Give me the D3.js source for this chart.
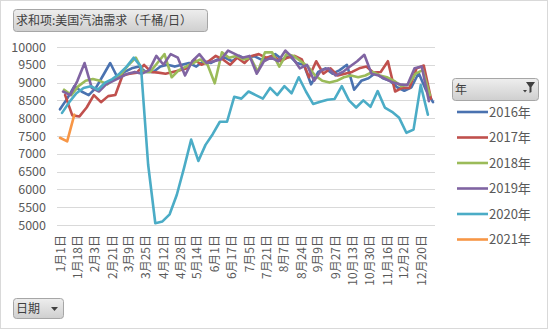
<!DOCTYPE html>
<html>
<head>
<meta charset="utf-8">
<script src="https://cdn.jsdelivr.net/npm/d3@7/dist/d3.min.js"></script>
<style>
  html, body { margin: 0; padding: 0; background: #fff; }
  svg { display: block; font-family: "Noto Sans CJK SC", "Noto Sans", sans-serif; }
</style>
</head>
<body>
<svg id="chart" width="550" height="330"></svg>
<script>
// Weekly US gasoline demand (thousand barrels/day), one series per year
const seriesNames = ["2016年", "2017年", "2018年", "2019年", "2020年", "2021年"];
const firstWeek = ["2016-01-01", "2017-01-06", "2018-01-05", "2019-01-04", "2020-01-03", "2021-01-01"];
const seriesColors = ["#4a72b0", "#c0504d", "#9bbb59", "#8064a2", "#4bacc6", "#f79646"];

const v2016 = [8250, 8550, 8900, 8750, 8650, 8850, 9200, 9550, 9150, 9300, 9400, 9450, 9300, 9300,
  9450, 9500, 9450, 9500, 9550, 9450, 9600, 9550, 9650, 9700, 9600, 9750, 9650, 9750, 9650, 9700,
  9800, 9650, 9750, 9550, 9500, 8950, 9300, 9400, 9250, 9350, 9500, 8800, 9050, 9120, 9270, 9120,
  9050, 8870, 8770, 8870, 9270, 8800, 8450];
const v2017 = [8650, 8080, 8050, 8300, 8650, 8450, 8620, 8650, 9200, 9250, 9280, 9500, 9300, 9280,
  9250, 9300, 9350, 9400, 9650, 9500, 9600, 9750, 9650, 9500, 9700, 9550, 9750, 9800, 9700, 9750,
  9600, 9700, 9750, 9650, 9150, 9600, 9250, 9400, 9200, 9250, 9300, 9400, 9450, 9280, 9300, 9600,
  8750, 8850, 8850, 9400, 9480, 8550];
const v2018 = [8800, 8650, 8900, 9050, 9100, 9050, 8950, 9100, 9250, 9500, 9700, 9300, 9300, 9550,
  9800, 9150, 9350, 9450, 9550, 9650, 9500, 8980, 9850, 9700, 9750, 9650, 9700, 9300, 9850, 9850,
  9450, 9800, 9750, 9600, 9450, 9200, 9050, 9000, 9050, 9150, 9200, 9150, 9200, 9300, 9200, 9150,
  9050, 8900, 8950, 9250, 9350, 8650];
const v2019 = [8750, 8650, 9050, 9550, 8850, 8750, 8950, 9050, 9150, 9250, 9300, 9250, 9350, 9750,
  9500, 9800, 9700, 9200, 9600, 9800, 9550, 9600, 9650, 9900, 9800, 9700, 9750, 9250, 9600, 9700,
  9600, 9900, 9700, 9400, 9500, 9050, 9350, 9400, 9200, 9300, 9450, 9600, 9780, 9250, 9200, 9100,
  9000, 8950, 8930, 9400, 9450, 8480];
const v2020 = [8150, 8450, 8700, 8850, 8900, 8800, 9000, 9100, 9250, 9450, 9700, 9450, 6700, 5050,
  5100, 5300, 5850, 6600, 7400, 6800, 7250, 7550, 7900, 7900, 8600, 8550, 8750, 8650, 8550, 8850,
  8650, 8900, 8700, 9150, 8750, 8400, 8460, 8520, 8540, 8900, 8500, 8300, 8500, 8320, 8760, 8300,
  8180, 8010, 7590, 7680, 8930, 8100];
const v2021 = [7450, 7350, 8100];
const seriesValues = [v2016, v2017, v2018, v2019, v2020, v2021];

const tickLabels = ["1月1日", "1月18日", "2月3日", "2月21日", "3月9日", "3月25日", "4月12日", "4月28日",
  "5月14日", "6月1日", "6月17日", "7月5日", "7月21日", "8月7日", "8月24日", "9月9日", "9月27日",
  "10月13日", "10月30日", "11月16日", "12月2日", "12月20日"];
const yTicks = [5000, 5500, 6000, 6500, 7000, 7500, 8000, 8500, 9000, 9500, 10000];

// day-of-year helpers on a common non-leap calendar
const base = new Date(2001, 0, 1);
const dayOfYear = (m, d) => d3.timeDay.count(base, new Date(2001, m - 1, d));
const labelDay = s => { const m = s.match(/(\d+)月(\d+)日/); return dayOfYear(+m[1], +m[2]); };
const startDay = s => { const p = s.split("-"); return dayOfYear(+p[1], +p[2]); };

const svg = d3.select("#chart");
const textColor = "#595959";

// outer frame
svg.append("rect").attr("x", 0.5).attr("y", 0.5).attr("width", 547).attr("height", 328)
  .attr("fill", "#fff").attr("stroke", "#d9d9d9");

const plot = { left: 57, right: 435, top: 47, bottom: 225 };
const x = d3.scaleLinear().domain([0, 364]).range([60, 433]);
const y = d3.scaleLinear().domain([5000, 10000]).range([plot.bottom, plot.top]);

// gridlines
svg.append("g").selectAll("line").data(yTicks).join("line")
  .attr("x1", plot.left).attr("x2", plot.right)
  .attr("y1", d => Math.round(y(d)) + 0.5).attr("y2", d => Math.round(y(d)) + 0.5)
  .attr("stroke", "#d9d9d9").attr("stroke-width", 1);

// y axis labels
const yAxis = d3.axisLeft(y).tickValues(yTicks).tickFormat(d3.format("d")).tickSize(0).tickPadding(0);
svg.append("g").attr("transform", "translate(46,0)").call(yAxis)
  .call(g => g.select(".domain").remove())
  .call(g => g.selectAll("text").attr("fill", textColor).attr("font-size", 12.5)
    .attr("font-family", "'Noto Sans CJK SC', sans-serif"));

// x axis labels, rotated
const xAxis = d3.axisBottom(x).tickValues(tickLabels.map(labelDay))
  .tickFormat((d, i) => tickLabels[i]).tickSize(0);
svg.append("g").attr("transform", `translate(0,${plot.bottom})`).call(xAxis)
  .call(g => g.select(".domain").attr("stroke", "#d9d9d9"))
  .call(g => g.selectAll("text")
    .attr("fill", textColor).attr("font-size", 12)
    .attr("font-family", "'Noto Sans CJK SC', sans-serif")
    .attr("transform", "rotate(-90)")
    .attr("text-anchor", "end")
    .attr("x", -10).attr("y", 0).attr("dy", "0.35em"));

// series lines
const line = d3.line().x(d => x(d.day)).y(d => y(d.value));
seriesNames.forEach((name, k) => {
  const s0 = startDay(firstWeek[k]);
  const pts = seriesValues[k].map((v, i) => ({ day: s0 + 7 * i, value: v }));
  svg.append("path").datum(pts)
    .attr("fill", "none").attr("stroke", seriesColors[k]).attr("stroke-width", 2.6)
    .attr("stroke-linejoin", "round").attr("stroke-linecap", "round")
    .attr("d", line);
});

// field buttons
const defs = svg.append("defs");
const grad = defs.append("linearGradient").attr("id", "btn").attr("x1", 0).attr("y1", 0).attr("x2", 0).attr("y2", 1);
grad.append("stop").attr("offset", "0%").attr("stop-color", "#eeeeee");
grad.append("stop").attr("offset", "100%").attr("stop-color", "#cfcfcf");

function button(x0, y0, w, h) {
  svg.append("rect").attr("x", x0 + 0.5).attr("y", y0 + 0.5).attr("width", w).attr("height", h)
    .attr("rx", 3).attr("fill", "url(#btn)").attr("stroke", "#a6a6a6");
}

button(13, 9, 194, 22);
svg.append("text").attr("x", 16).attr("y", 25).attr("font-size", 12).attr("fill", "#404040")
  .text("求和项:美国汽油需求（千桶/日）");

button(452, 78, 86, 22);
svg.append("text").attr("x", 455).attr("y", 94).attr("font-size", 12).attr("fill", "#404040").text("年");
// filter icon
svg.append("path").attr("d", "M526,82 L535,82 L531.5,87 L531.5,92 L529.5,93 L529.5,87 Z").attr("fill", "#404040");
svg.append("path").attr("d", "M523,90 L527,90 L525,92.5 Z").attr("fill", "#404040");

button(13, 298, 50, 20);
svg.append("text").attr("x", 16).attr("y", 313).attr("font-size", 12).attr("fill", "#404040").text("日期");
svg.append("path").attr("d", "M51,307 L58,307 L54.5,311 Z").attr("fill", "#404040");

// legend
const legend = svg.append("g");
seriesNames.forEach((name, k) => {
  const ly = 112 + k * 25.5;
  legend.append("line").attr("x1", 457).attr("x2", 488).attr("y1", ly).attr("y2", ly)
    .attr("stroke", seriesColors[k]).attr("stroke-width", 2.6);
  legend.append("text").attr("x", 489).attr("y", ly).attr("dy", "0.35em")
    .attr("font-size", 13).attr("fill", textColor).text(name);
});
</script>
</body>
</html>
